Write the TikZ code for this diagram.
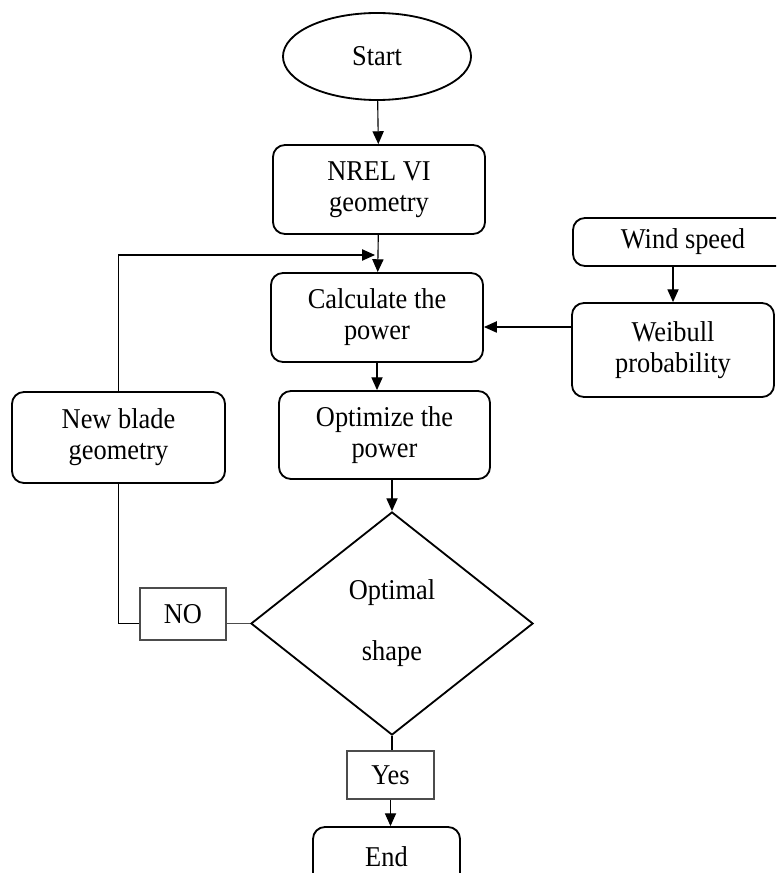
\documentclass[tikz,border=0pt]{standalone}
\usepackage{fontspec}
\setmainfont{Liberation Serif}[FakeStretch=0.92]
\usetikzlibrary{shapes.geometric,arrows.meta}

\begin{document}
\begin{tikzpicture}[x=0.025cm,y=-0.025cm,
    txt/.style={font=\fontsize{20.4}{22}\selectfont,align=center,inner sep=0pt},
    stepbox/.style={txt,draw,line width=1.3pt,rounded corners=0.3cm},
    tagbox/.style={txt,draw=black!70,line width=0.9pt},
    arr/.style={-{Triangle[length=3.2mm,width=2.8mm]},line width=0.8pt},
    link/.style={line width=0.8pt}]
    \useasboundingbox (0,0) rectangle (776,873);
    \clip (0,0) rectangle (776,873);

    \node[txt,draw,ellipse,line width=1.3pt,minimum width=4.7cm,minimum height=2.175cm] (start) at (377,56.5) {Start};
    \node[stepbox,minimum width=5.3cm,minimum height=2.225cm] (nrel) at (379,189.5) {NREL VI\\geometry};
    \node[stepbox,minimum width=5.5cm,minimum height=1.2cm] (wind) at (683,242) {Wind speed};
    \node[stepbox,minimum width=5.3cm,minimum height=2.225cm] (calc) at (377,317.5) {Calculate the\\power};
    \node[stepbox,minimum width=5.05cm,minimum height=2.35cm] (weib) at (673,350) {Weibull\\probability};
    \node[stepbox,minimum width=5.275cm,minimum height=2.2cm] (opt) at (384.5,435) {Optimize the\\power};
    \node[stepbox,minimum width=5.325cm,minimum height=2.275cm] (newb) at (118.5,437.5) {New blade\\geometry};
    \node[txt,draw,diamond,line width=1.3pt,minimum width=7.05cm,minimum height=5.575cm] (dec) at (392,623.5) {Optimal\\[0.75cm]shape};
    \node[tagbox,minimum width=2.15cm,minimum height=1.3cm] (no) at (183,614) {NO};
    \node[tagbox,minimum width=2.175cm,minimum height=1.2cm] (yes) at (390.5,775) {Yes};
    \node[stepbox,minimum width=3.675cm,minimum height=1.5cm] (end) at (386.5,857) {End};

    % main flow
    \draw[arr] (start) -- (nrel);
    \draw[arr] (nrel) -- (calc);
    \draw[arr] (wind.south -| weib.north) -- (weib.north);
    \draw[arr] ([yshift=0.575cm]weib.west) -- ([yshift=0.575cm]weib.west -| calc.east);
    \draw[arr] (calc.south) -- (calc.south |- opt.north);
    \draw[arr] (dec.north |- opt.south) -- (dec.north);
    \draw[link] (dec.south) -- (dec.south |- yes.north);
    \draw[arr] (yes.south) -- (yes.south |- end.north);

    % loop back
    \coordinate (fb) at (375,255);
    \draw[link,black!70,line width=1pt] (dec.west) -- (dec.west -| no.east);
    \draw[link] (newb.south) |- (dec.west -| no.west);
    \draw[arr] (newb.north) |- (fb);
\end{tikzpicture}
\end{document}
